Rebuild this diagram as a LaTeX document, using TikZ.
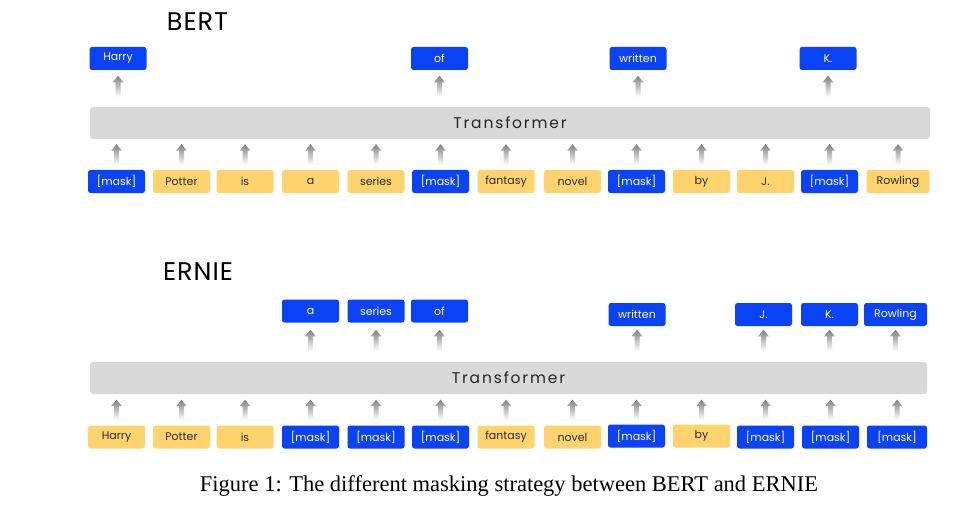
\documentclass[tikz,border=0pt]{standalone}
\usepackage{fontspec}
\setmainfont{Liberation Serif}
\newfontfamily\gothic{Poppins}
\newfontfamily\gothicsp[LetterSpace=12]{Poppins}
\newfontfamily\gothictitle[LetterSpace=4]{Poppins}
\usetikzlibrary{calc}
\definecolor{mblue}{HTML}{0A42F5}
\definecolor{myellow}{HTML}{FFD46E}
\definecolor{mgray}{HTML}{D9D9D9}
\definecolor{arrtop}{HTML}{808080}
\definecolor{ytext}{HTML}{2B2B2B}
\tikzset{
 tokbox/.style={rounded corners=2.5pt, minimum width=57pt, minimum height=23pt, inner sep=0pt, font=\gothic\fontsize{11}{13}\selectfont},
 bluebox/.style={tokbox, fill=mblue, text=white},
 yelbox/.style={tokbox, fill=myellow, text=ytext},
 barbox/.style={rounded corners=3pt, fill=mgray, minimum height=32pt, inner sep=0pt, font=\gothicsp\fontsize{15.5}{18}\selectfont, text=black!85},
 titletext/.style={font=\gothictitle\fontsize{25.5}{30}\selectfont, inner sep=0pt, text=black},
 arrshade/.style={top color=arrtop, bottom color=white}
}
% #1 = base coordinate name, #2 = tip coordinate name
\newcommand\garrow[2]{%
 \shade[arrshade] let \p1=(#1), \p2=(#2) in
 (\x1-2.5pt,\y1) -- (\x1-2.5pt,\y2-6.5pt) -- (\x1-5.4pt,\y2-6.5pt) -- (\x1,\y2)
 -- (\x1+5.4pt,\y2-6.5pt) -- (\x1+2.5pt,\y2-6.5pt) -- (\x1+2.5pt,\y1) -- cycle;}
\begin{document}
\begin{tikzpicture}[x=1pt,y=-1pt]
\useasboundingbox[fill=white] (0,0) rectangle (960,513);
% ---------------- BERT ----------------
\node[titletext] (bertT) at (197.5,22) {BERT};
\node[barbox, minimum width=840pt] (bar1) at (510,123) {Transformer};
\node[bluebox] (a1)  at (116.5,181.5) {[mask]};
\node[yelbox]  (a2)  at (181.5,181.5) {Potter};
\node[yelbox]  (a3)  at (245,181.5) {is};
\node[yelbox]  (a4)  at (310.5,181.5) {a};
\node[yelbox]  (a5)  at (376,181.5) {series};
\node[bluebox] (a6)  at (440.5,181.5) {[mask]};
\node[yelbox]  (a7)  at (506,181.5) {fantasy};
\node[yelbox]  (a8)  at (572.5,181.5) {novel};
\node[bluebox] (a9)  at (636.5,181.5) {[mask]};
\node[yelbox]  (a10) at (701.5,181.5) {by};
\node[yelbox]  (a11) at (765.5,181.5) {J.};
\node[bluebox] (a12) at (829.5,181.5) {[mask]};
\node[yelbox, minimum width=63pt] (a13) at (898,181.5) {Rowling};
\node[bluebox] (ao1)  at (118,58.5) {Harry};
\node[bluebox] (ao6)  at (439.5,58.5) {of};
\node[bluebox] (ao9)  at (638,58.5) {written};
\node[bluebox] (ao12) at (828,58.5) {K.};
\foreach \n in {a1,a2,a3,a4,a5,a6,a7,a8,a9,a10,a11,a12,a13}{
  \coordinate (lo) at ($(\n.north)+(0,-5)$);
  \coordinate (hi) at ($(\n.north |- bar1.south)+(0,5)$);
  \garrow{lo}{hi}
}
\foreach \n in {ao1,ao6,ao9,ao12}{
  \coordinate (lo) at ($(\n.south |- bar1.north)+(0,-10)$);
  \coordinate (hi) at ($(\n.south |- bar1.north)+(0,-31)$);
  \garrow{lo}{hi}
}
% ---------------- ERNIE ----------------
\node[titletext] (ernieT) at (198,271.5) {ERNIE};
\node[barbox, minimum width=837pt] (bar2) at (508.5,378) {Transformer};
\node[yelbox]  (b1)  at (116.5,437) {Harry};
\node[yelbox]  (b2)  at (181.5,437) {Potter};
\node[yelbox]  (b3)  at (245,437) {is};
\node[bluebox] (b4)  at (310.5,437) {[mask]};
\node[bluebox] (b5)  at (376,437) {[mask]};
\node[bluebox] (b6)  at (440.5,437) {[mask]};
\node[yelbox]  (b7)  at (506,437) {fantasy};
\node[yelbox]  (b8)  at (572.5,437) {novel};
\node[bluebox] (b9)  at (636.5,436) {[mask]};
\node[yelbox]  (b10) at (701.5,436) {by};
\node[bluebox] (b11) at (765.5,437) {[mask]};
\node[bluebox] (b12) at (830.5,437) {[mask]};
\node[bluebox, minimum width=60pt] (b13) at (897,437) {[mask]};
\node[bluebox] (bo4)  at (310.5,311) {a};
\node[bluebox] (bo5)  at (376,311) {series};
\node[bluebox] (bo6)  at (439.5,311) {of};
\node[bluebox] (bo9)  at (637,314.5) {written};
\node[bluebox] (bo11) at (763.5,314.5) {J.};
\node[bluebox] (bo12) at (829.5,314.5) {K.};
\node[bluebox, minimum width=63pt] (bo13) at (895.5,314.5) {Rowling};
\foreach \n in {b1,b2,b3,b4,b5,b6,b7,b8,b9,b10,b11,b12,b13}{
  \coordinate (lo) at ($(\n.north |- b1.north)+(0,-5.5)$);
  \coordinate (hi) at ($(\n.north |- bar2.south)+(0,5.5)$);
  \garrow{lo}{hi}
}
\foreach \n in {bo4,bo5,bo6,bo9,bo11,bo12,bo13}{
  \coordinate (lo) at ($(\n.south |- bar2.north)+(0,-11)$);
  \coordinate (hi) at ($(\n.south |- bar2.north)+(0,-32)$);
  \garrow{lo}{hi}
}
% ---------------- caption ----------------
\node[font=\fontsize{22.5}{27}\selectfont, inner sep=0pt] (cap) at (509,486)
  {Figure 1: The different masking strategy between BERT and ERNIE};
\end{tikzpicture}
\end{document}
